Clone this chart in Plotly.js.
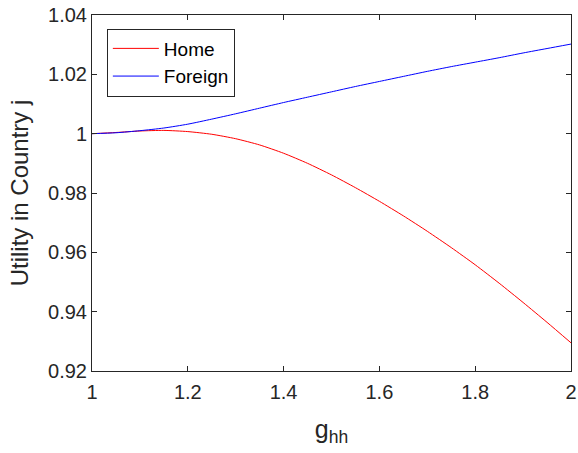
<!DOCTYPE html>
<html>
<head>
<meta charset="utf-8">
<script src="https://cdn.plot.ly/plotly-3.0.1.min.js"></script>
<style>html,body{margin:0;padding:0;background:#fff;}#chart{width:578px;height:453px;}</style>
</head>
<body>
<div id="chart"></div>
<script>
const gValues = [1.0, 1.05, 1.1, 1.15, 1.2, 1.25, 1.3, 1.35, 1.4, 1.45, 1.5, 1.55, 1.6, 1.65, 1.7, 1.75, 1.8, 1.85, 1.9, 1.95, 2.0];
const homeUtility = [1.0, 1.0004, 1.0009, 1.0011, 1.0007, 0.9998, 0.9983, 0.9962, 0.9934, 0.99, 0.9861, 0.9818, 0.9772, 0.9723, 0.9671, 0.9616, 0.9558, 0.9496, 0.9431, 0.9364, 0.9295];
const foreignUtility = [1.0, 1.0003, 1.001, 1.0019, 1.0032, 1.0049, 1.0067, 1.0086, 1.0105, 1.0123, 1.0141, 1.0159, 1.0176, 1.0193, 1.021, 1.0226, 1.0241, 1.0256, 1.0272, 1.0287, 1.0302];
const xTickVals = [1, 1.2, 1.4, 1.6, 1.8, 2];
const xTickText = ["1", "1.2", "1.4", "1.6", "1.8", "2"];
const yTickVals = [0.92, 0.94, 0.96, 0.98, 1.0, 1.02, 1.04];
const yTickText = ["0.92", "0.94", "0.96", "0.98", "1", "1.02", "1.04"];

const axisColor = '#262626';
const fontFam = '"Liberation Sans", Arial, Helvetica, sans-serif';

const traces = [
  {x: gValues, y: homeUtility, type: 'scatter', mode: 'lines', name: 'Home', line: {color: '#ff0000', width: 1, shape: 'spline', smoothing: 0.6}},
  {x: gValues, y: foreignUtility, type: 'scatter', mode: 'lines', name: 'Foreign', line: {color: '#0000ff', width: 1, shape: 'spline', smoothing: 0.6}}
];

const layout = {
  width: 578, height: 453,
  margin: {l: 92, r: 7, t: 15, b: 82, pad: 0},
  paper_bgcolor: '#fff', plot_bgcolor: '#fff',
  font: {family: fontFam, color: axisColor, size: 20},
  showlegend: true,
  legend: {
    x: 0.031, y: 0.962, xanchor: 'left', yanchor: 'top',
    bgcolor: '#fff', bordercolor: axisColor, borderwidth: 1,
    font: {family: fontFam, size: 19, color: '#000'},
    itemwidth: 46,
    tracegroupgap: 0
  },
  xaxis: {
    range: [1, 2], tickmode: 'array', tickvals: xTickVals, ticktext: xTickText,
    ticks: 'inside', ticklen: 5, tickcolor: axisColor, tickwidth: 1,
    showline: true, linecolor: axisColor, linewidth: 1, mirror: 'ticks',
    showgrid: false, zeroline: false, ticklabelstandoff: 3,
    tickfont: {size: 20, color: axisColor},
    title: {text: 'g<sub>hh</sub>', font: {size: 25, color: axisColor}, standoff: 18}
  },
  yaxis: {
    range: [0.92, 1.04], tickmode: 'array', tickvals: yTickVals, ticktext: yTickText,
    ticks: 'inside', ticklen: 5, tickcolor: axisColor, tickwidth: 1,
    showline: true, linecolor: axisColor, linewidth: 1, mirror: 'ticks',
    showgrid: false, zeroline: false,
    tickfont: {size: 20, color: axisColor},
    title: {text: 'Utility in Country j', font: {size: 24, color: axisColor}, standoff: 12}
  }
};

Plotly.newPlot('chart', traces, layout, {displayModeBar: false, staticPlot: true});
</script>
</body>
</html>
